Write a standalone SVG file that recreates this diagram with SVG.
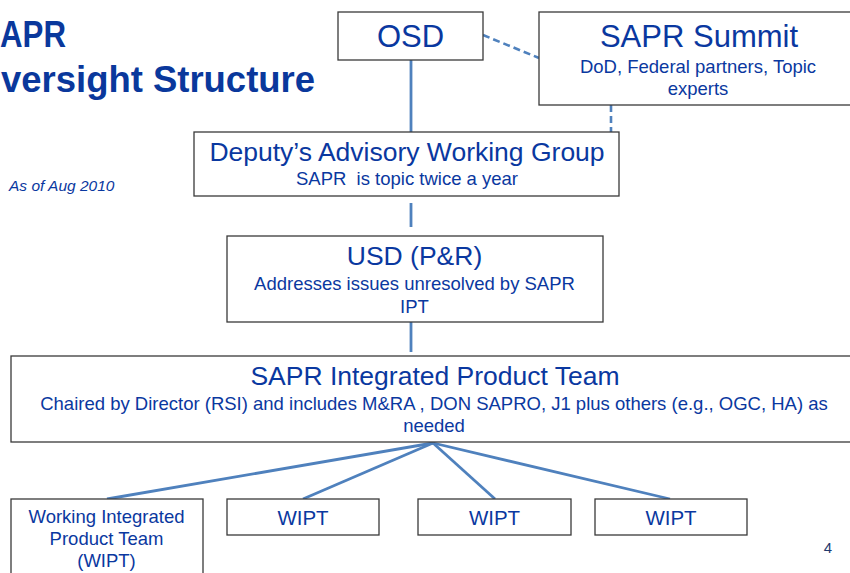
<svg xmlns="http://www.w3.org/2000/svg" width="850" height="573" viewBox="0 0 850 573">
<style>
  .box { fill: #ffffff; stroke: #3a3a3a; stroke-width: 1.3; }
  .t { font-family: "Liberation Sans", Arial, sans-serif; fill: #0A38A0; text-anchor: middle; }
  .big { font-size: 26.5px; }
  .huge { font-size: 31px; }
  .sm { font-size: 18.5px; white-space: pre; }
  .title { font-family: "Liberation Sans", Arial, sans-serif; font-weight: bold; font-size: 36px; fill: #0A389C; }
  .solid { stroke: #4F81BD; stroke-width: 2.8; fill: none; }
  .dash { stroke: #4F81BD; stroke-width: 2.6; fill: none; stroke-dasharray: 7 4; }
</style>
<rect width="850" height="573" fill="#ffffff"/>

<g id="title">
  <text class="title" x="0" y="47" textLength="66" lengthAdjust="spacingAndGlyphs">APR</text>
  <text class="title" x="1" y="92" textLength="314" lengthAdjust="spacingAndGlyphs">versight Structure</text>
  <text x="9" y="191" font-family="Liberation Sans, Arial, sans-serif" font-style="italic" font-size="15.5" fill="#0A38A0">As of Aug 2010</text>
</g>

<g id="connectors">
  <line class="solid" x1="411" y1="60" x2="411" y2="132"/>
  <line class="dash" x1="483" y1="35" x2="539" y2="58"/>
  <line class="dash" x1="611" y1="105" x2="611" y2="132"/>
  <line class="solid" x1="411" y1="203" x2="411" y2="227"/>
  <line class="solid" x1="411" y1="322" x2="411" y2="352"/>
  <line class="solid" x1="433" y1="443" x2="107" y2="499"/>
  <line class="solid" x1="433" y1="443" x2="303" y2="499"/>
  <line class="solid" x1="433" y1="443" x2="495" y2="499"/>
  <line class="solid" x1="433" y1="443" x2="670" y2="499"/>
</g>

<g id="osd">
  <rect class="box" x="338" y="12" width="145" height="48"/>
  <text class="t huge" x="410.5" y="47">OSD</text>
</g>

<g id="summit">
  <rect class="box" x="539" y="12" width="314" height="93"/>
  <text class="t huge" x="699" y="47">SAPR Summit</text>
  <text class="t sm" x="698" y="73">DoD, Federal partners, Topic</text>
  <text class="t sm" x="698" y="95">experts</text>
</g>

<g id="dawg">
  <rect class="box" x="194" y="132" width="425" height="64"/>
  <text class="t big" x="407" y="161">Deputy’s Advisory Working Group</text>
  <text class="t sm" x="407" y="185">SAPR  is topic twice a year</text>
</g>

<g id="usd">
  <rect class="box" x="227" y="236" width="376" height="86"/>
  <text class="t big" x="414.5" y="265">USD (P&amp;R)</text>
  <text class="t sm" x="414.5" y="290">Addresses issues unresolved by SAPR</text>
  <text class="t sm" x="414.5" y="313">IPT</text>
</g>

<g id="ipt">
  <rect class="box" x="11" y="356" width="843" height="86"/>
  <text class="t big" x="435" y="385">SAPR Integrated Product Team</text>
  <text class="t sm" x="434" y="410">Chaired by Director (RSI) and includes M&amp;RA , DON SAPRO, J1 plus others (e.g., OGC, HA) as</text>
  <text class="t sm" x="434" y="432">needed</text>
</g>

<g id="wipt1">
  <rect class="box" x="11" y="499" width="192" height="80"/>
  <text class="t sm" x="106.5" y="523">Working Integrated</text>
  <text class="t sm" x="106.5" y="545">Product Team</text>
  <text class="t sm" x="106.5" y="567">(WIPT)</text>
</g>

<g id="wipt2">
  <rect class="box" x="227" y="499" width="152" height="36"/>
  <text class="t" font-size="20.5" x="303" y="525">WIPT</text>
</g>

<g id="wipt3">
  <rect class="box" x="418" y="499" width="153" height="36"/>
  <text class="t" font-size="20.5" x="494.5" y="525">WIPT</text>
</g>

<g id="wipt4">
  <rect class="box" x="595" y="499" width="152" height="36"/>
  <text class="t" font-size="20.5" x="671" y="525">WIPT</text>
</g>

<g id="pagenum">
  <text x="828" y="553" font-family="Liberation Sans, Arial, sans-serif" font-size="15" fill="#1F3A6E" text-anchor="middle">4</text>
</g>
</svg>
